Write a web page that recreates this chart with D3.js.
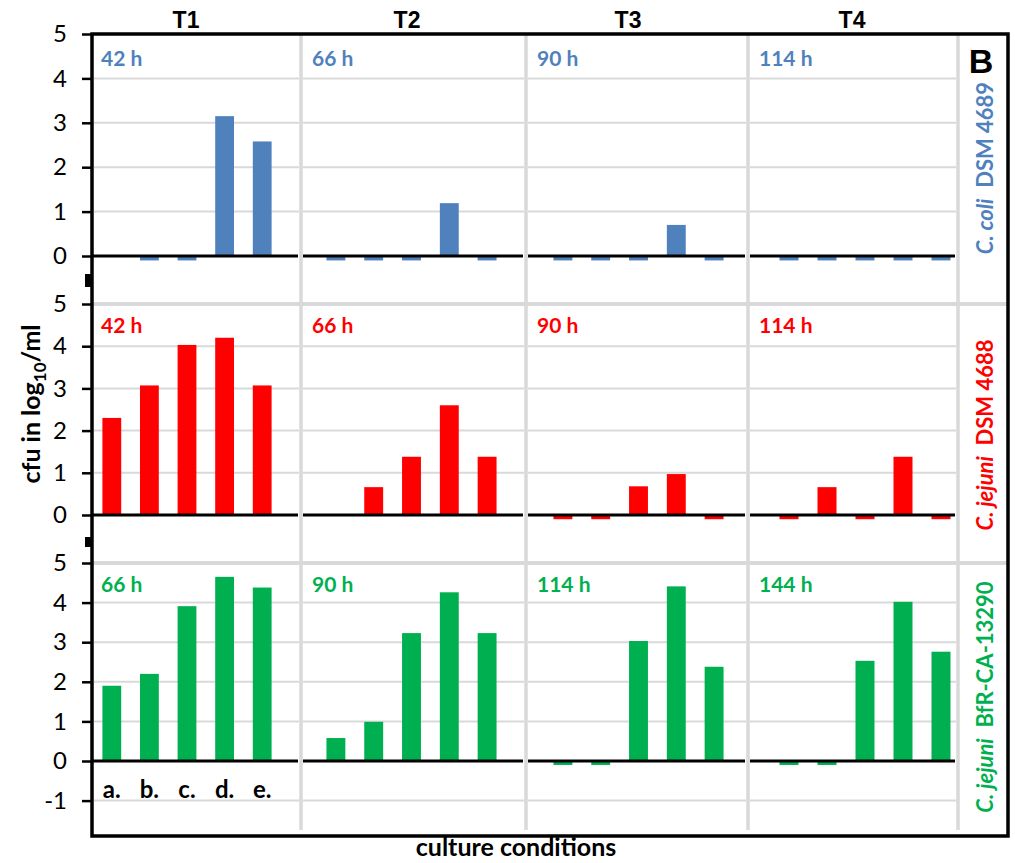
<!DOCTYPE html>
<html>
<head>
<meta charset="utf-8">
<script src="https://cdn.jsdelivr.net/npm/d3@7"></script>
<style>
  html, body { margin: 0; padding: 0; background: #fff; }
  svg { display: block; }
</style>
</head>
<body>
<svg id="chart" width="1015" height="863"></svg>
<script>
// Culture conditions on the x axis of every panel
const conditions = ["a.", "b.", "c.", "d.", "e."];
// Sampling points (panel columns)
const timepoints = ["T1", "T2", "T3", "T4"];

// Strains (panel rows)
const strainSpecies = ["C. coli", "C. jejuni", "C. jejuni"];
const strainIds = ["DSM 4689", "DSM 4688", "BfR-CA-13290"];
const strainColors = ["#4F81BD", "#FF0000", "#00B050"];

// Incubation time shown in each panel
const hoursColi4689 = ["42 h", "66 h", "90 h", "114 h"];
const hoursJejuni4688 = ["42 h", "66 h", "90 h", "114 h"];
const hoursJejuni13290 = ["66 h", "90 h", "114 h", "144 h"];

// cfu in log10/ml per time point (rows) and condition a.–e. (columns); null = no bar
const coli4689 = [
  [null, -0.1, -0.1, 3.15, 2.58],
  [-0.1, -0.1, -0.1, 1.19, -0.1],
  [-0.1, -0.1, -0.1, 0.70, -0.1],
  [-0.1, -0.1, -0.1, -0.1, -0.1]
];
const jejuni4688 = [
  [2.30, 3.07, 4.03, 4.20, 3.07],
  [null, 0.66, 1.38, 2.60, 1.38],
  [-0.1, -0.1, 0.68, 0.97, -0.1],
  [-0.1, 0.66, -0.1, 1.38, -0.1]
];
const jejuni13290 = [
  [1.90, 2.20, 3.91, 4.65, 4.38],
  [0.58, 0.99, 3.23, 4.26, 3.23],
  [-0.1, -0.1, 3.03, 4.41, 2.38],
  [-0.1, -0.1, 2.53, 4.02, 2.76]
];

// Axis ticks
const yTicksUpper = [0, 1, 2, 3, 4, 5];
const yTicksLower = [-1, 0, 1, 2, 3, 4, 5];

const panelRows = [
  { values: coli4689, hours: hoursColi4689, ticks: yTicksUpper },
  { values: jejuni4688, hours: hoursJejuni4688, ticks: yTicksUpper },
  { values: jejuni13290, hours: hoursJejuni13290, ticks: yTicksLower }
];

// ---- layout ----
const frame = { left: 92, top: 34, right: 1008, bottom: 836 };
const colEdges = [92, 301, 526, 748, 958];
const bandRanges = [[93, 281], [317, 506], [544, 733], [770, 960]];
const rowRanges = [[256, 34], [515, 304], [761, 563]]; // pixel y of value 0 and value 5
const sepBottom = 830;
const gridColor = "#D9D9D9";
const numFont = "Lato, 'Open Sans', sans-serif";
const headFont = "'Liberation Sans', Arial, sans-serif";

const svg = d3.select("#chart");

const gGrid = svg.append("g");
const gBars = svg.append("g");
const gAxes = svg.append("g");
const gText = svg.append("g");

// x scales, one per column
const xScales = bandRanges.map(r =>
  d3.scaleBand().domain(conditions).range(r).paddingInner(0.5).paddingOuter(0.25)
);
// y scales, one per row
const yScales = rowRanges.map(r => d3.scaleLinear().domain([0, 5]).range(r));

// horizontal gridlines
panelRows.forEach((row, ri) => {
  const y = yScales[ri];
  const gridVals = row.ticks.filter(v => v !== 0 && v !== 5);
  timepoints.forEach((t, ci) => {
    gGrid.selectAll(null)
      .data(gridVals)
      .join("line")
      .attr("x1", colEdges[ci] + 2)
      .attr("x2", colEdges[ci + 1] - 2)
      .attr("y1", d => y(d))
      .attr("y2", d => y(d))
      .attr("stroke", gridColor)
      .attr("stroke-width", 2);
  });
  if (ri > 0) {
    gGrid.append("line")
      .attr("x1", frame.left).attr("x2", frame.right)
      .attr("y1", y(5)).attr("y2", y(5))
      .attr("stroke", gridColor).attr("stroke-width", 4);
  }
});

// vertical separators between time points
gGrid.selectAll(null)
  .data(colEdges.slice(1))
  .join("line")
  .attr("x1", d => d).attr("x2", d => d)
  .attr("y1", frame.top).attr("y2", sepBottom)
  .attr("stroke", gridColor).attr("stroke-width", 3.5);

// bars
panelRows.forEach((row, ri) => {
  const y = yScales[ri];
  row.values.forEach((vals, ci) => {
    const x = xScales[ci];
    const data = vals.map((v, i) => ({ c: conditions[i], v })).filter(d => d.v !== null);
    gBars.selectAll(null)
      .data(data)
      .join("rect")
      .attr("x", d => x(d.c))
      .attr("width", x.bandwidth())
      .attr("y", d => Math.min(y(d.v), y(0)))
      .attr("height", d => Math.abs(y(d.v) - y(0)))
      .attr("fill", strainColors[ri]);
  });
});

// zero lines per panel
panelRows.forEach((row, ri) => {
  const y = yScales[ri];
  timepoints.forEach((t, ci) => {
    gAxes.append("line")
      .attr("x1", ci === 0 ? colEdges[0] : colEdges[ci] + 2)
      .attr("x2", colEdges[ci + 1] - 3)
      .attr("y1", y(0)).attr("y2", y(0))
      .attr("stroke", "#000").attr("stroke-width", 3);
  });
});

// outer frame and left value axis
gAxes.append("path")
  .attr("d", `M${frame.left},${frame.bottom}V${frame.top}H${frame.right}V${frame.bottom}Z`)
  .attr("fill", "none").attr("stroke", "#000").attr("stroke-width", 3.5);

panelRows.forEach((row, ri) => {
  const y = yScales[ri];
  const axis = d3.axisLeft(y).tickValues(row.ticks).tickSize(10).tickPadding(15)
    .tickFormat(d => String(d));
  const g = gAxes.append("g").attr("transform", `translate(${frame.left},0)`).call(axis);
  g.select(".domain").remove();
  g.selectAll(".tick line").attr("stroke", "#000").attr("stroke-width", 2.5);
  g.selectAll(".tick text")
    .attr("font-family", numFont).attr("font-size", 24).attr("fill", "#000");
});

// axis break marks between rows
[[274, 13], [537, 10]].forEach(([yb, h]) => {
  gAxes.append("rect")
    .attr("x", frame.left - 7).attr("y", yb).attr("width", 6).attr("height", h)
    .attr("fill", "#000");
});

// column headers
gText.selectAll(null)
  .data(timepoints)
  .join("text")
  .attr("x", (d, i) => [186, 407, 628, 852][i])
  .attr("y", 28)
  .attr("text-anchor", "middle")
  .attr("font-family", headFont).attr("font-weight", "bold").attr("font-size", 23)
  .text(d => d);

// incubation time labels
panelRows.forEach((row, ri) => {
  const y = yScales[ri];
  gText.selectAll(null)
    .data(row.hours)
    .join("text")
    .attr("x", (d, i) => colEdges[i] + (i === 0 ? 9 : 11))
    .attr("y", y(5) + (ri === 0 ? 32 : 29))
    .attr("font-family", numFont).attr("font-weight", "bold").attr("font-size", 21)
    .attr("fill", strainColors[ri])
    .text(d => d);
});

// condition labels under the first bottom panel
gText.selectAll(null)
  .data(conditions)
  .join("text")
  .attr("x", d => xScales[0](d) + xScales[0].bandwidth() / 2)
  .attr("y", 798)
  .attr("text-anchor", "middle")
  .attr("font-family", numFont).attr("font-weight", "bold").attr("font-size", 24)
  .text(d => d);

// strain labels on the right
const strainCenters = [168, 435, 697];
strainSpecies.forEach((sp, ri) => {
  const t = gText.append("text")
    .attr("transform", `translate(993,${strainCenters[ri]}) rotate(-90)`)
    .attr("text-anchor", "middle")
    .attr("font-family", numFont).attr("font-weight", "bold").attr("font-size", 22)
    .attr("fill", strainColors[ri]);
  t.append("tspan").attr("font-style", "italic").text(sp);
  t.append("tspan").attr("xml:space", "preserve").text("  " + strainIds[ri]);
});

// panel letter
gText.append("text")
  .attr("x", 981).attr("y", 73)
  .attr("text-anchor", "middle")
  .attr("font-family", headFont).attr("font-weight", "bold").attr("font-size", 34)
  .text("B");

// y axis title
const yTitle = gText.append("text")
  .attr("transform", "translate(40,404) rotate(-90)")
  .attr("text-anchor", "middle")
  .attr("font-family", numFont).attr("font-weight", "bold").attr("font-size", 25);
yTitle.append("tspan").text("cfu in log");
yTitle.append("tspan").attr("font-size", 17).attr("dy", 6).text("10");
yTitle.append("tspan").attr("dy", -6).text("/ml");

// x axis title
gText.append("text")
  .attr("x", 516).attr("y", 856)
  .attr("text-anchor", "middle")
  .attr("font-family", numFont).attr("font-weight", "bold").attr("font-size", 25)
  .text("culture conditions");
</script>
</body>
</html>
